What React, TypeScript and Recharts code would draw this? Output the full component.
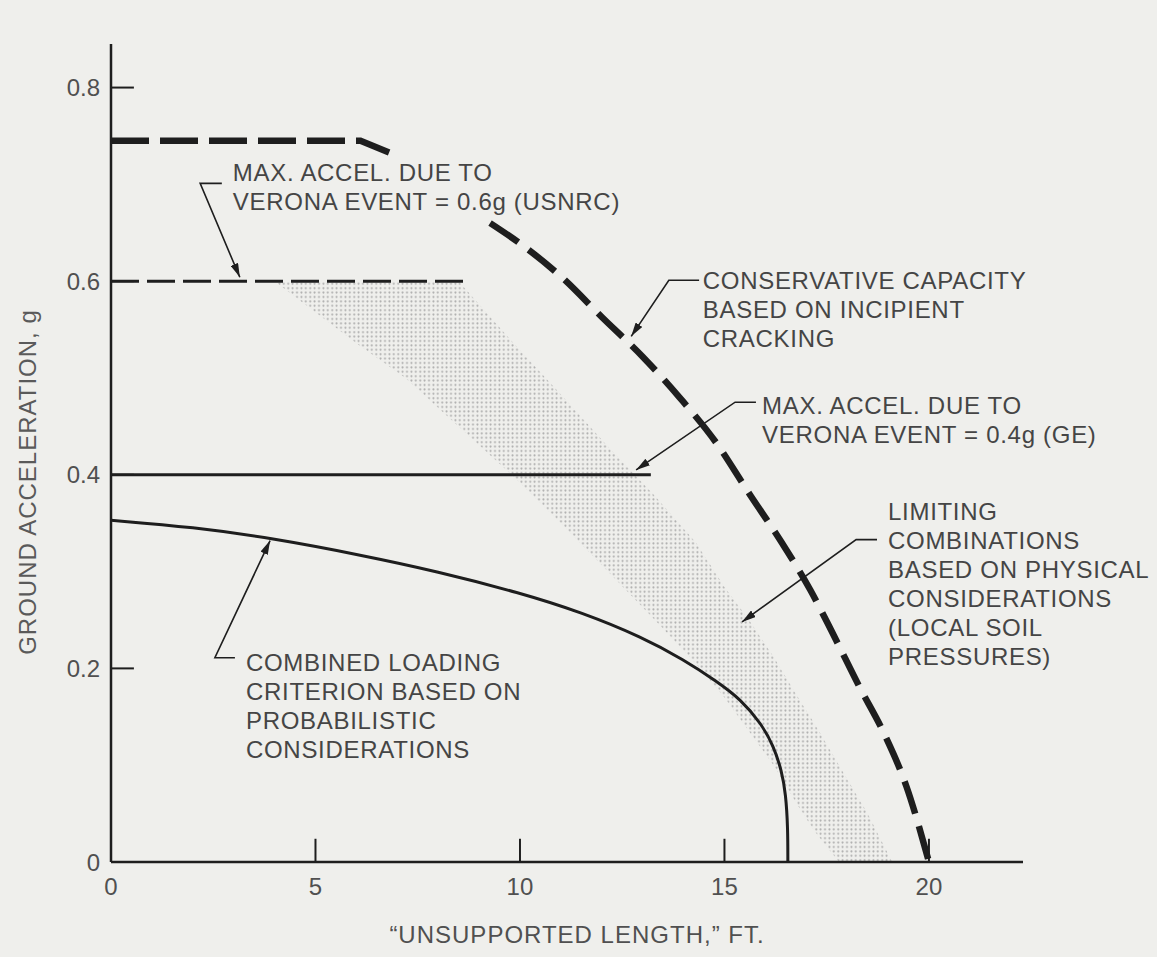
import { ComposedChart, Line, Area, XAxis, YAxis, ReferenceLine } from 'recharts';

const W = 1157;
const H = 957;
const MARGIN = { top: 44, right: 134, bottom: 55, left: 51 };
const Y_AXIS_W = 60;
const X_AXIS_H = 40;
const X_MAX = 22.3;
const Y_MAX = 0.845;

const FONT = "'Liberation Sans', Arial, Helvetica, sans-serif";
const INK = '#1e1e1e';
const TEXT = '#454545';

// axis ticks
const xTicks = [0, 5, 10, 15, 20];
const yTicks = [0, 0.2, 0.4, 0.6, 0.8];
const innerXTicks = [5, 10, 15, 20];
const innerYTicks = [0.2, 0.4, 0.6, 0.8];

// conservative capacity (heavy dashed) - broken where the USNRC label sits on it
const capTopX = [0, 6.1, 6.8];
const capTopY = [0.745, 0.745, 0.733];
const capX = [9.27, 10, 11.05, 12, 13, 13.9, 14.8, 15.6, 16.4, 17.1, 17.65, 18.3, 18.9, 19.45, 20];
const capY = [0.66, 0.639, 0.603, 0.563, 0.522, 0.48, 0.433, 0.381, 0.33, 0.281, 0.236, 0.181, 0.133, 0.078, 0];

// verona event levels
const usnrcX = [0, 8.78];
const usnrcY = [0.6, 0.6];
const geX = [0, 13.2];
const geY = [0.4, 0.4];

// combined loading criterion
const critX = [0, 2, 4, 6, 8, 10, 11.5, 13, 14, 14.8, 15.4, 15.9, 16.2, 16.4, 16.5, 16.55, 16.55];
const critY = [0.353, 0.346, 0.334, 0.318, 0.3, 0.278, 0.258, 0.232, 0.209, 0.187, 0.168, 0.143, 0.12, 0.094, 0.07, 0.035, 0];

// limiting combinations band (stippled)
const bandX = [4, 5, 6, 7.2, 8.5, 9.8, 11, 12.2, 13.3, 14.3, 15.0, 15.6, 16.2, 16.8, 17.2, 17.8, 18.5, 19.1];
const bandLo = [0.6, 0.568, 0.536, 0.5, 0.45, 0.4, 0.35, 0.298, 0.25, 0.205, 0.17, 0.135, 0.1, 0.058, 0.032, 0, 0, 0];
const bandHi = [0.6, 0.6, 0.6, 0.6, 0.6, 0.538, 0.483, 0.427, 0.378, 0.33, 0.284, 0.25, 0.212, 0.17, 0.143, 0.1, 0.05, 0];

// leader lines for the labels (data coords, last point is the arrow tip)
const leaders = [
  { x: [2.71, 2.18, 3.15], y: [0.701, 0.701, 0.604] },
  { x: [14.38, 13.64, 12.72], y: [0.601, 0.601, 0.543] },
  { x: [15.77, 15.26, 12.84], y: [0.475, 0.475, 0.405] },
  { x: [18.73, 18.22, 15.43], y: [0.333, 0.333, 0.248] },
  { x: [3.03, 2.54, 3.89], y: [0.211, 0.211, 0.332] },
];

const labels = [
  { x: 2.98, y: 0.713, lines: ['MAX. ACCEL. DUE TO', 'VERONA EVENT = 0.6g (USNRC)'] },
  { x: 14.47, y: 0.601, lines: ['CONSERVATIVE CAPACITY', 'BASED ON INCIPIENT', 'CRACKING'] },
  { x: 15.92, y: 0.472, lines: ['MAX. ACCEL. DUE TO', 'VERONA EVENT = 0.4g (GE)'] },
  { x: 19.0, y: 0.362, lines: ['LIMITING', 'COMBINATIONS', 'BASED ON PHYSICAL', 'CONSIDERATIONS', '(LOCAL SOIL', 'PRESSURES)'] },
  { x: 3.3, y: 0.206, lines: ['COMBINED LOADING', 'CRITERION BASED ON', 'PROBABILISTIC', 'CONSIDERATIONS'] },
];

const plotLeft = MARGIN.left + Y_AXIS_W;
const plotTop = MARGIN.top;
const plotW = W - MARGIN.right - plotLeft;
const plotH = H - MARGIN.bottom - X_AXIS_H - plotTop;
const px = (x: number) => plotLeft + (x / X_MAX) * plotW;
const py = (y: number) => plotTop + plotH - (y / Y_MAX) * plotH;

const toPts = (xs: number[], ys: number[]) => xs.map((x, i) => ({ x, y: ys[i] }));

const capTop = toPts(capTopX, capTopY);
const cap = toPts(capX, capY);
const usnrc = toPts(usnrcX, usnrcY);
const ge = toPts(geX, geY);
const crit = toPts(critX, critY);
const band = bandX.map((x, i) => ({ x, range: [bandLo[i], bandHi[i]] }));

export default function App() {
  return (
    <div style={{ position: 'absolute', left: 0, top: 0, width: W, height: H, background: '#efefec', fontFamily: FONT }}>
      <ComposedChart width={W} height={H} margin={MARGIN}>
        <defs>
          <pattern id="stipple" width="4.4" height="4.4" patternUnits="userSpaceOnUse">
            <circle cx="2.2" cy="2.2" r="1" fill="#acacac" />
          </pattern>
          <marker id="arrowHead" viewBox="0 0 14 8" refX="14" refY="4" markerWidth="14" markerHeight="8" markerUnits="userSpaceOnUse" orient="auto">
            <path d="M0,0 L14,4 L0,8 Z" fill={INK} />
          </marker>
        </defs>

        <XAxis
          type="number"
          dataKey="x"
          domain={[0, X_MAX]}
          ticks={xTicks}
          height={X_AXIS_H}
          axisLine={{ stroke: INK, strokeWidth: 2.5 }}
          tickLine={false}
          tickMargin={10}
          tick={{ fill: '#505050', fontSize: 24, fontFamily: FONT }}
          allowDataOverflow
        />
        <YAxis
          type="number"
          domain={[0, Y_MAX]}
          ticks={yTicks}
          width={Y_AXIS_W}
          axisLine={{ stroke: INK, strokeWidth: 2.5 }}
          tickLine={false}
          tickMargin={5}
          tick={{ fill: '#505050', fontSize: 24, fontFamily: FONT }}
          tickFormatter={(v: number) => (v === 0 ? '0' : String(v))}
          allowDataOverflow
        />

        <Area
          data={band}
          dataKey="range"
          type="linear"
          stroke="none"
          fill="url(#stipple)"
          fillOpacity={1}
          dot={false}
          activeDot={false}
          isAnimationActive={false}
        />

        {innerYTicks.map((v) => (
          <ReferenceLine key={'yt' + v} segment={[{ x: 0, y: v }, { x: 0.56, y: v }]} stroke={INK} strokeWidth={2} />
        ))}
        {innerXTicks.map((v) => (
          <ReferenceLine key={'xt' + v} segment={[{ x: v, y: 0 }, { x: v, y: 0.024 }]} stroke={INK} strokeWidth={2} />
        ))}

        <Line data={usnrc} dataKey="y" type="linear" stroke={INK} strokeWidth={3} strokeDasharray="28 8" dot={false} activeDot={false} isAnimationActive={false} />
        <Line data={ge} dataKey="y" type="linear" stroke={INK} strokeWidth={3} dot={false} activeDot={false} isAnimationActive={false} />
        <Line data={crit} dataKey="y" type="basis" stroke={INK} strokeWidth={3} dot={false} activeDot={false} isAnimationActive={false} />
        <Line data={capTop} dataKey="y" type="linear" stroke={INK} strokeWidth={6.5} strokeDasharray="38 11" dot={false} activeDot={false} isAnimationActive={false} />
        <Line data={cap} dataKey="y" type="monotone" stroke={INK} strokeWidth={6.5} strokeDasharray="34 13" dot={false} activeDot={false} isAnimationActive={false} />

        {leaders.map((l, i) => (
          <Line
            key={'ld' + i}
            data={toPts(l.x, l.y)}
            dataKey="y"
            type="linear"
            stroke={INK}
            strokeWidth={1.6}
            markerEnd="url(#arrowHead)"
            dot={false}
            activeDot={false}
            isAnimationActive={false}
          />
        ))}
      </ComposedChart>

      {labels.map((lb, i) => (
        <div
          key={'lb' + i}
          style={{
            position: 'absolute',
            left: px(lb.x),
            top: py(lb.y) - 14.2,
            fontSize: 24,
            lineHeight: '29px',
            letterSpacing: 0.7,
            color: TEXT,
            whiteSpace: 'pre',
          }}
        >
          {lb.lines.join('\n')}
        </div>
      ))}

      <div
        style={{
          position: 'absolute',
          left: 28,
          top: 482,
          transform: 'translate(-50%, -50%) rotate(-90deg)',
          fontSize: 24,
          letterSpacing: 1,
          color: '#5a5a5a',
          whiteSpace: 'nowrap',
        }}
      >
        GROUND ACCELERATION, g
      </div>
      <div
        style={{
          position: 'absolute',
          left: 577,
          top: 935,
          transform: 'translate(-50%, -50%)',
          fontSize: 24,
          letterSpacing: 1,
          color: '#505050',
          whiteSpace: 'nowrap',
        }}
      >
        {'\u201CUNSUPPORTED LENGTH,\u201D FT.'}
      </div>
    </div>
  );
}
